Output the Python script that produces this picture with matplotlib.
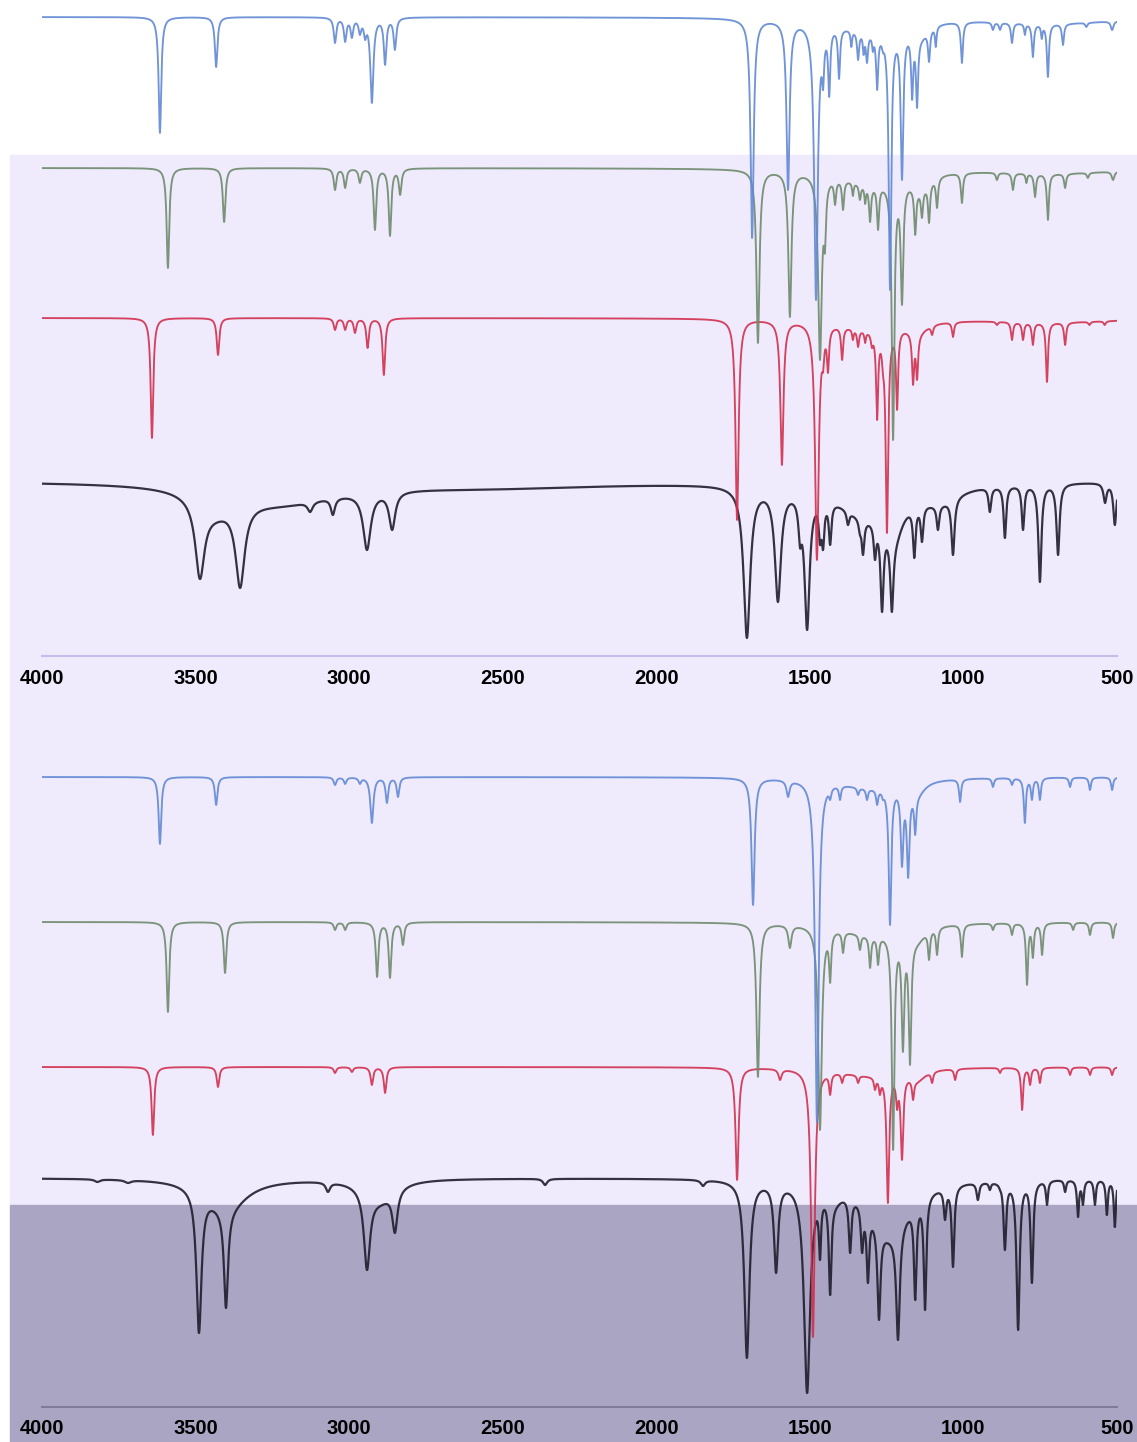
"""Stacked IR spectra (computed vs. experimental), two panels, 4000-500 cm-1."""
import numpy as np
import matplotlib
matplotlib.use("Agg")
import matplotlib.pyplot as plt
from matplotlib.patches import Rectangle

W, H = 1137, 1442
TICKS = [4000, 3500, 3000, 2500, 2000, 1500, 1000, 500]

# Peaks: (wavenumber cm-1, trough depth in px below the trace baseline, half width cm-1)
# Bands: broad underlying absorption, (wavenumber, depth px, half width)

# ---- upper panel ----
UP_BLUE_BASE = 17
UP_BLUE_BANDS = [(1300, 12, 130), (1140, 12, 30), (700, 6, 250)]
UP_BLUE_PEAKS = [
    (3616, 116, 5), (3433, 50, 5), (3046, 26, 5), (3013, 25, 5), (2991, 21, 5),
    (2965, 18, 5), (2948, 23, 5), (2926, 86, 6), (2883, 48, 5), (2851, 33, 5),
    (1688, 221, 6), (1571, 173, 6), (1480, 283, 7), (1457, 73, 4), (1437, 80, 4),
    (1405, 62, 4), (1365, 30, 3), (1343, 43, 4), (1325, 38, 3), (1314, 46, 4),
    (1295, 35, 3), (1281, 73, 4), (1262, 36, 4),
    (1239, 273, 5), (1200, 163, 5), (1167, 83, 4), (1151, 91, 4), (1112, 45, 4),
    (1090, 30, 3), (1005, 46, 4), (904, 13, 4), (881, 13, 4), (842, 26, 4),
    (800, 18, 3), (774, 40, 4), (745, 22, 3),
    (725, 60, 4), (676, 28, 4), (600, 10, 4), (516, 13, 5),
]
UP_GREEN_BASE = 168
UP_GREEN_BANDS = [(1300, 14, 120), (1140, 14, 35), (700, 5, 250)]
UP_GREEN_PEAKS = [
    (3590, 100, 5), (3407, 54, 5), (3046, 22, 5), (3013, 20, 5), (2965, 15, 5),
    (2916, 62, 5), (2867, 68, 5), (2834, 27, 5),
    (1669, 175, 6), (1565, 149, 6), (1467, 192, 7), (1451, 85, 4), (1418, 37, 4),
    (1392, 42, 4), (1360, 28, 3), (1337, 32, 4), (1320, 36, 3), (1304, 54, 4),
    (1278, 62, 4), (1229, 272, 5),
    (1200, 137, 5), (1157, 67, 4), (1135, 50, 4), (1112, 55, 4), (1086, 40, 4),
    (1005, 35, 4), (891, 12, 4), (839, 22, 4), (795, 15, 3), (767, 29, 4),
    (725, 52, 4), (669, 20, 4), (595, 10, 4), (513, 12, 5),
]
UP_RED_BASE = 318
UP_RED_BANDS = [(1300, 10, 120), (1150, 10, 35), (700, 4, 250)]
UP_RED_PEAKS = [
    (3642, 120, 5), (3427, 37, 5), (3046, 12, 5), (3013, 12, 5), (2981, 15, 5),
    (2940, 30, 5), (2887, 57, 5),
    (1737, 202, 6), (1591, 147, 6), (1477, 242, 7), (1457, 54, 4), (1441, 55, 4),
    (1395, 42, 4), (1360, 22, 3), (1343, 29, 4), (1320, 25, 3), (1298, 30, 4),
    (1281, 102, 4), (1262, 57, 4),
    (1249, 215, 5), (1216, 92, 4), (1164, 67, 4), (1151, 62, 4), (1102, 17, 4),
    (1034, 19, 4), (891, 7, 4), (842, 22, 4), (806, 22, 4), (774, 27, 4),
    (728, 64, 4), (669, 27, 4), (590, 7, 4), (540, 7, 4),
]
UP_BLACK_BASE = 481
UP_BLACK_BANDS = [(3440, 18, 70), (3230, 20, 220), (2550, 6, 500),
                  (1320, 30, 110), (1225, 35, 35), (1080, 15, 80)]
UP_BLACK_PEAKS = [
    (3486, 98, 18), (3355, 107, 18), (3127, 31, 10), (3053, 34, 8),
    (2942, 69, 15), (2860, 49, 12),
    (1705, 157, 13), (1604, 121, 12), (1532, 67, 6), (1509, 149, 10),
    (1467, 64, 5), (1457, 69, 5), (1434, 64, 5), (1376, 44, 5), (1337, 54, 5),
    (1327, 74, 5), (1288, 79, 5), (1265, 131, 6), (1233, 131, 6), (1160, 77, 5),
    (1135, 61, 5), (1083, 49, 5), (1034, 74, 6), (914, 31, 5), (865, 57, 5),
    (806, 49, 5), (751, 101, 6), (692, 74, 6), (539, 22, 6), (507, 44, 6),
]

# ---- lower panel ----
LO_BLUE_BASE = 777
LO_BLUE_BANDS = [(1300, 10, 120), (1150, 12, 30)]
LO_BLUE_PEAKS = [
    (3616, 67, 5), (3433, 28, 5), (3046, 8, 5), (3013, 7, 5), (2965, 7, 5),
    (2926, 46, 6), (2877, 26, 5), (2841, 20, 5),
    (1685, 128, 6), (1571, 20, 6), (1477, 345, 7), (1457, 23, 4), (1434, 23, 4),
    (1402, 23, 4), (1343, 18, 4), (1314, 23, 4), (1281, 28, 4), (1262, 23, 4),
    (1239, 148, 5), (1200, 90, 5), (1180, 101, 5), (1157, 58, 4), (1011, 25, 4),
    (904, 10, 4), (842, 8, 4), (800, 46, 4), (777, 23, 4), (751, 23, 4),
    (653, 10, 4), (588, 13, 4), (516, 13, 4),
]
LO_GREEN_BASE = 922
LO_GREEN_BANDS = [(1300, 12, 120), (1150, 12, 30)]
LO_GREEN_PEAKS = [
    (3590, 90, 5), (3404, 51, 5), (3046, 8, 5), (3013, 8, 5),
    (2909, 55, 5), (2867, 56, 5), (2825, 23, 5),
    (1669, 155, 6), (1565, 26, 6), (1467, 208, 7), (1434, 61, 4), (1392, 31, 4),
    (1337, 28, 4), (1304, 46, 4), (1278, 43, 4), (1229, 228, 5), (1197, 130, 5),
    (1174, 143, 5), (1112, 38, 4), (1086, 33, 4), (1005, 35, 4), (904, 8, 4),
    (842, 13, 4), (793, 63, 4), (774, 36, 4), (744, 33, 4), (643, 8, 4),
    (588, 13, 4), (513, 16, 4),
]
LO_RED_BASE = 1067
LO_RED_BANDS = [(1300, 8, 120), (1150, 10, 30)]
LO_RED_PEAKS = [
    (3639, 68, 5), (3427, 20, 5), (3046, 6, 5), (2991, 5, 5),
    (2926, 18, 5), (2883, 26, 5),
    (1737, 113, 6), (1597, 13, 6), (1490, 270, 7), (1434, 28, 4), (1395, 16, 4),
    (1343, 16, 4), (1288, 23, 4), (1272, 28, 4), (1246, 136, 5), (1216, 43, 4),
    (1200, 93, 5), (1164, 33, 4), (1102, 16, 4), (1027, 13, 4), (881, 6, 4),
    (809, 43, 4), (783, 18, 4), (751, 16, 4), (653, 8, 4), (588, 8, 4),
    (516, 8, 4),
]
LO_BLACK_BASE = 1178
LO_BLACK_BANDS = [(3400, 30, 80), (2900, 20, 60), (1240, 55, 75), (1420, 12, 30)]
LO_BLACK_PEAKS = [
    (3820, 4, 10), (3720, 5, 12), (3489, 155, 10), (3401, 130, 8), (3069, 14, 8),
    (2942, 92, 12), (2851, 55, 10), (2362, 7, 8),
    (1848, 8, 8), (1705, 180, 10), (1610, 95, 8), (1509, 215, 12),
    (1467, 82, 4), (1434, 117, 5), (1369, 75, 5), (1330, 75, 5), (1311, 105, 5),
    (1275, 142, 6), (1213, 162, 7), (1157, 122, 5), (1125, 132, 5), (1060, 42, 5),
    (1034, 89, 5), (953, 22, 5), (914, 12, 4), (881, 12, 4), (865, 72, 5),
    (822, 152, 6), (777, 105, 5), (728, 27, 4), (669, 14, 4), (627, 39, 4),
    (611, 27, 4), (572, 27, 4), (533, 37, 4), (507, 49, 4),
]

COLORS = {"blue": "#6289d4", "green": "#6e8a6c", "red": "#d2304f", "black": "#1f1d2c"}
LAVENDER = "#efebfc"
DARK = "#aaa5c3"


def lorentz(x, c, g):
    return g ** 2 / ((x - c) ** 2 + g ** 2)


def trace(x, peaks, bands=()):
    """Absorbance-like trace (px below baseline) whose troughs hit the listed depths."""
    bg = np.zeros_like(x)
    for c, a, g in bands:
        bg += a * lorentz(x, c, g)
    c = np.array([p[0] for p in peaks], float)
    t = np.array([p[1] for p in peaks], float)
    g = np.array([p[2] for p in peaks], float)
    target = t.copy()
    for bc, a, bw in bands:
        target -= a * lorentz(c, bc, bw)
    A = lorentz(c[:, None], c[None, :], g[None, :])
    active = np.ones(len(c), bool)
    amp = np.zeros(len(c))
    for _ in range(30):
        idx = np.where(active)[0]
        sol = np.linalg.solve(A[np.ix_(idx, idx)], target[idx])
        if (sol >= 0).all():
            amp[idx] = sol
            break
        active[idx[sol < 0]] = False
    y = bg.copy()
    for ci, ai, gi in zip(c, amp, g):
        y += ai * lorentz(x, ci, gi)
    return y


def main():
    x = np.linspace(4000, 500, 7001)

    fig = plt.figure(figsize=(W / 100, H / 100), dpi=100)
    fig.patch.set_facecolor("white")
    # background bands, kept behind both axes
    fig.patches.append(Rectangle((10 / W, 1 - 1205 / H), 1 - 10 / W, (1205 - 155) / H,
                                 transform=fig.transFigure, color=LAVENDER, zorder=-10))
    fig.patches.append(Rectangle((10 / W, 0), 1 - 10 / W, 1 - 1205 / H,
                                 transform=fig.transFigure, color=DARK, zorder=-10))

    panels = [
        (0, 656, "#c3bfe8", [
            (UP_BLACK_BASE, UP_BLACK_PEAKS, UP_BLACK_BANDS, "black"),
            (UP_RED_BASE, UP_RED_PEAKS, UP_RED_BANDS, "red"),
            (UP_GREEN_BASE, UP_GREEN_PEAKS, UP_GREEN_BANDS, "green"),
            (UP_BLUE_BASE, UP_BLUE_PEAKS, UP_BLUE_BANDS, "blue"),
        ]),
        (700, 1407, "#7f7b98", [
            (LO_BLACK_BASE, LO_BLACK_PEAKS, LO_BLACK_BANDS, "black"),
            (LO_RED_BASE, LO_RED_PEAKS, LO_RED_BANDS, "red"),
            (LO_GREEN_BASE, LO_GREEN_PEAKS, LO_GREEN_BANDS, "green"),
            (LO_BLUE_BASE, LO_BLUE_PEAKS, LO_BLUE_BANDS, "blue"),
        ]),
    ]

    for top, bottom, axis_col, series in panels:
        ax = fig.add_axes([42 / W, 1 - bottom / H, 1075 / W, (bottom - top) / H])
        ax.set_zorder(1)
        ax.set_facecolor("none")
        for z, (base, peaks, bands, col) in enumerate(series):
            y = base + trace(x, peaks, bands)
            lw = 1.6 if col == "black" else 1.35
            ax.plot(x, y, color=COLORS[col], lw=lw, alpha=0.9, zorder=2 + z,
                    solid_joinstyle="round")
        ax.set_xlim(4000, 500)
        ax.set_ylim(bottom, top)
        for s in ("top", "left", "right"):
            ax.spines[s].set_visible(False)
        ax.spines["bottom"].set_color(axis_col)
        ax.spines["bottom"].set_linewidth(1.5)
        ax.set_yticks([])
        ax.set_xticks(TICKS)
        ax.set_xticklabels([str(t) for t in TICKS], fontweight="bold",
                           fontfamily="Liberation Sans", fontsize=14.5)
        ax.tick_params(axis="x", length=0, pad=9, colors="black")

    fig.savefig("out.png", dpi=100)


if __name__ == "__main__":
    main()
